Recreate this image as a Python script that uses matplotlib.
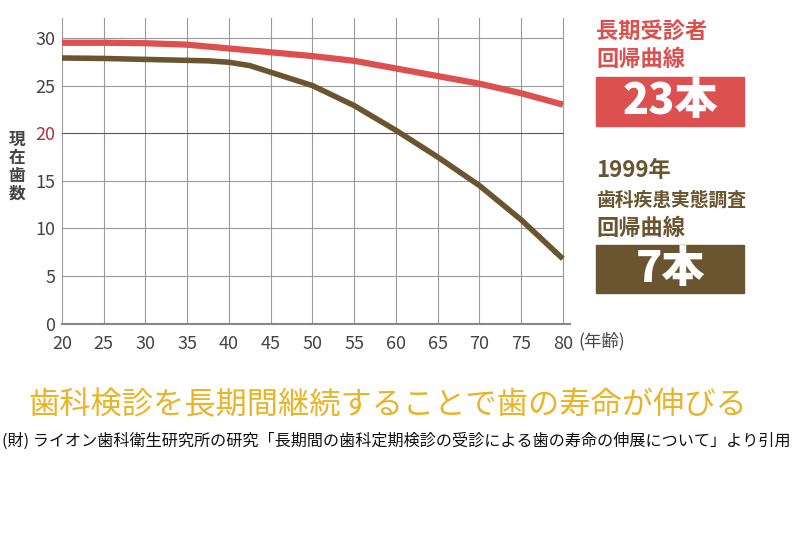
import matplotlib
matplotlib.use("Agg")
import matplotlib.pyplot as plt
from matplotlib.patches import Rectangle

plt.rcParams['font.family'] = ['Noto Sans CJK JP', 'DejaVu Sans']

# values
ages_red = [20, 25, 30, 35, 40, 45, 50, 55, 60, 65, 70, 75, 80]
long_term = [29.5, 29.5, 29.45, 29.3, 28.9, 28.5, 28.1, 27.6, 26.8, 26.0, 25.2, 24.2, 23.0]
ages_brown = [20, 25, 30, 35, 37.5, 40, 42.5, 45, 47.5, 50, 55, 60, 65, 70, 75, 80]
survey_1999 = [27.9, 27.85, 27.75, 27.65, 27.6, 27.45, 27.1, 26.4, 25.7, 25.0, 22.9, 20.3, 17.5, 14.5, 10.9, 6.8]
x_ticks = [20, 25, 30, 35, 40, 45, 50, 55, 60, 65, 70, 75, 80]
y_ticks = [0, 5, 10, 15, 20, 25, 30]

RED = '#dc5050'
BROWN = '#6b5530'
GRAY_TXT = '#444444'
GRID = '#9a9a9a'

fig = plt.figure(figsize=(8, 5.33), dpi=100)
ax = fig.add_axes([62/800, (533-323.6)/533, (570-62)/800, (323.6-18)/533])
ax.set_xlim(20, 80.85)
ax.set_ylim(0, 32.1)

# grid
for xt in x_ticks:
    ax.axvline(xt, color=GRID, lw=0.8, zorder=1)
for yt in y_ticks[1:]:
    ax.hlines(yt, 20, 80, color=('#b03040' if yt == 20 else GRID), lw=0.8, zorder=1)

ax.plot(ages_red, long_term, color=RED, lw=4.5, solid_capstyle='butt',
        solid_joinstyle='round', zorder=3)
ax.plot(ages_brown, survey_1999, color=BROWN, lw=4.0, solid_capstyle='butt',
        solid_joinstyle='round', zorder=3)

for s in ['top', 'right', 'left']:
    ax.spines[s].set_visible(False)
ax.spines['bottom'].set_color('#888888')
ax.spines['bottom'].set_linewidth(1.5)

ax.set_xticks(x_ticks)
ax.set_yticks(y_ticks)
ax.tick_params(length=0, labelsize=13, labelcolor=GRAY_TXT)
ax.tick_params(axis='x', pad=8)
ax.tick_params(axis='y', pad=5)
for lbl in ax.get_yticklabels():
    if lbl.get_text() == '20':
        lbl.set_color('#b03040')

# y label (vertical stacked)
fig.text(17/800, 1 - 167/533, '現\n在\n歯\n数', ha='center', va='center',
         fontsize=12, color=GRAY_TXT, fontweight='bold', linespacing=1.0)
fig.text(578/800, 1 - 341/533, '(年齢)', ha='left', va='center', fontsize=12.5, color=GRAY_TXT)

# right annotations
fig.text(596/800, 1 - 32/533, '長期受診者', ha='left', va='center', fontsize=16,
         color=RED, fontweight='bold')
fig.text(596/800, 1 - 60/533, '回帰曲線', ha='left', va='center', fontsize=16,
         color=RED, fontweight='bold')
fig.patches.append(Rectangle((596/800, 1 - 126/533), 148/800, 49/533,
                             transform=fig.transFigure, color=RED, zorder=1))
fig.text(670/800, 1 - 101/533, '23本', ha='center', va='center', fontsize=31,
         color='white', fontweight='black')

fig.text(596/800, 1 - 171/533, '1999年', ha='left', va='center', fontsize=16,
         color=BROWN, fontweight='bold')
fig.text(596/800, 1 - 200/533, '歯科疾患実態調査', ha='left', va='center', fontsize=13.5,
         color=BROWN, fontweight='bold')
fig.text(596/800, 1 - 228/533, '回帰曲線', ha='left', va='center', fontsize=16,
         color=BROWN, fontweight='bold')
fig.patches.append(Rectangle((596/800, 1 - 293/533), 148/800, 48/533,
                             transform=fig.transFigure, color=BROWN, zorder=1))
fig.text(670/800, 1 - 269/533, '7本', ha='center', va='center', fontsize=31,
         color='white', fontweight='black')

# title and footer
fig.text(388/800, 1 - 405/533, '歯科検診を長期間継続することで歯の寿命が伸びる',
         ha='center', va='center', fontsize=22.5, color='#e8b52a')
fig.text(2/800, 1 - 441/533,
         '(財) ライオン歯科衛生研究所の研究「長期間の歯科定期検診の受診による歯の寿命の伸展について」より引用',
         ha='left', va='center', fontsize=11.6, color='#111111')

fig.savefig('out.png', dpi=100)
